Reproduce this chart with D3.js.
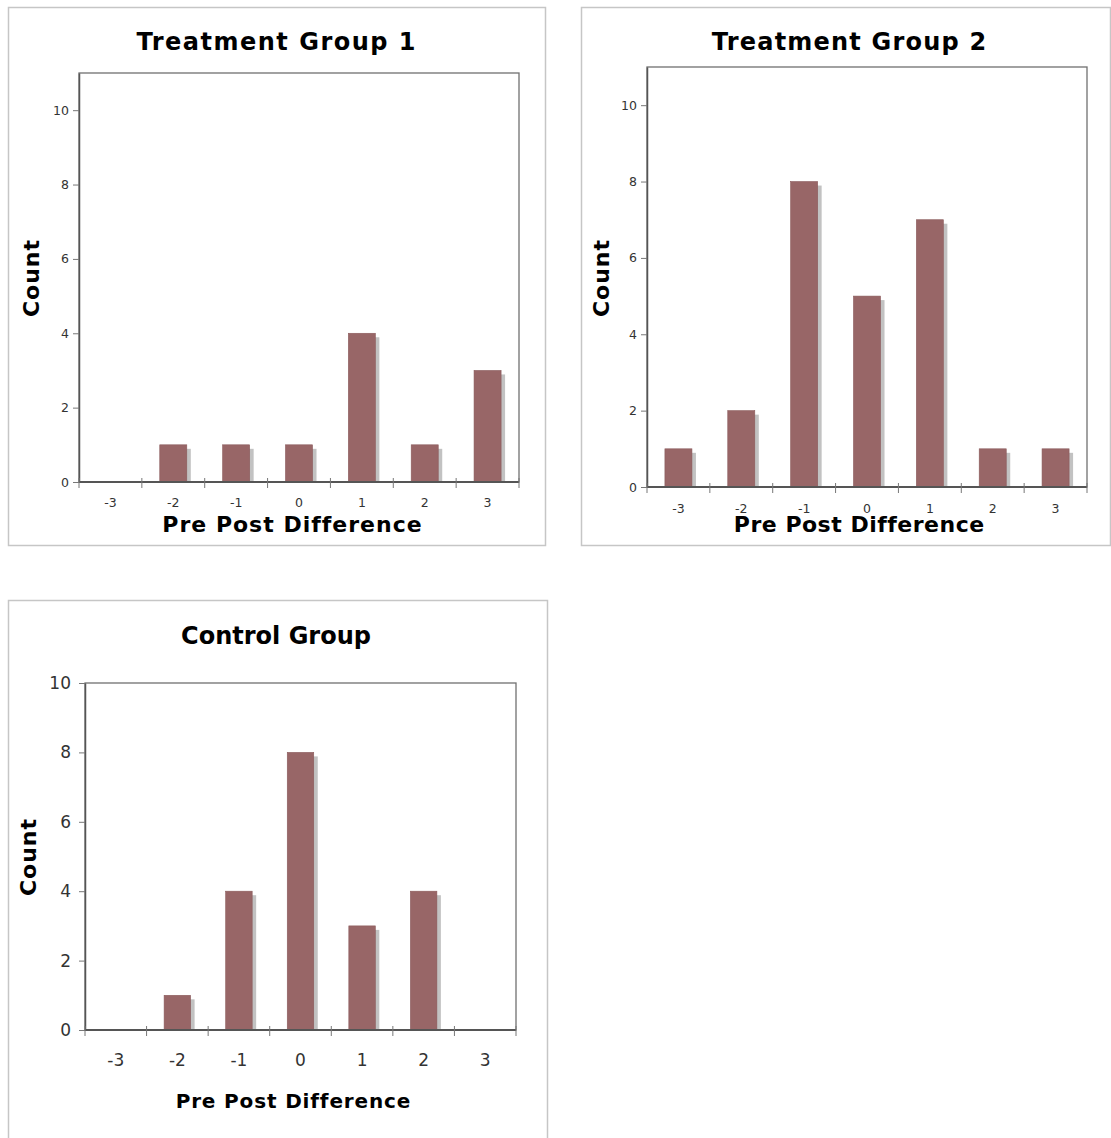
<!DOCTYPE html>
<html>
<head>
<meta charset="utf-8">
<script src="https://cdn.jsdelivr.net/npm/d3@7"></script>
<style>
  html, body { margin: 0; padding: 0; background: #fff; }
  svg { display: block; }
  text { font-family: "DejaVu Sans", Verdana, sans-serif; }
</style>
</head>
<body>
<svg id="chart" width="1111" height="1138"></svg>
<script>
// ---- data ----
const categories = ["-3", "-2", "-1", "0", "1", "2", "3"];
const treatment1Counts = [0, 1, 1, 1, 4, 1, 3];
const treatment2Counts = [1, 2, 8, 5, 7, 1, 1];
const controlCounts = [0, 1, 4, 8, 3, 4, 0];
const yTickValues = [0, 2, 4, 6, 8, 10];
const titles = ["Treatment Group 1", "Treatment Group 2", "Control Group"];
const xAxisTitle = "Pre Post Difference";
const yAxisTitle = "Count";

// ---- layout ----
const panels = [
  { title: titles[0], values: treatment1Counts,
    box: [8, 7, 537, 538], plot: { l: 79, r: 519, t: 73, b: 482 }, yMax: 11,
    titleX: 276, titleY: 50, titleSize: 24, titleLs: 1.5,
    xLabelY: 507, xTitleY: 532, xTitleX: 292, xTitleSize: 22, xTitleLs: 1,
    yTitleX: 39, yTitleY: 278, yTitleSize: 22, yTitleLs: 1, tickSize: 12.5, yLabelX: 69 },
  { title: titles[1], values: treatment2Counts,
    box: [581, 7, 529, 538], plot: { l: 647, r: 1087, t: 67, b: 487 }, yMax: 11,
    titleX: 849, titleY: 50, titleSize: 24, titleLs: 1.2,
    xLabelY: 513, xTitleY: 532, xTitleX: 859, xTitleSize: 22, xTitleLs: 0.5,
    yTitleX: 609, yTitleY: 278, yTitleSize: 22, yTitleLs: 1, tickSize: 12.5, yLabelX: 637 },
  { title: titles[2], values: controlCounts,
    box: [8, 600, 539, 545], plot: { l: 85, r: 516, t: 683, b: 1030 }, yMax: 10,
    titleX: 276, titleY: 644, titleSize: 24, titleLs: 0,
    xLabelY: 1066, xTitleY: 1108, xTitleX: 293, xTitleSize: 20, xTitleLs: 0.85,
    yTitleX: 36, yTitleY: 857, yTitleSize: 22, yTitleLs: 1, tickSize: 17, yLabelX: 71 }
];

const svg = d3.select("#chart");
const barColor = "#986667";
const shadowColor = "#c2c2c2";

panels.forEach(p => {
  const g = svg.append("g");
  // outer frame
  g.append("rect")
    .attr("x", p.box[0] + 0.5).attr("y", p.box[1] + 0.5)
    .attr("width", p.box[2]).attr("height", p.box[3])
    .attr("fill", "#fff").attr("stroke", "#c6c6c6").attr("stroke-width", 1.5);

  const x = d3.scaleBand().domain(categories).range([p.plot.l, p.plot.r]).paddingInner(0).paddingOuter(0);
  const y = d3.scaleLinear().domain([0, p.yMax]).range([p.plot.b, p.plot.t]);

  // plot area border
  g.append("rect")
    .attr("x", p.plot.l).attr("y", p.plot.t)
    .attr("width", p.plot.r - p.plot.l).attr("height", p.plot.b - p.plot.t)
    .attr("fill", "none").attr("stroke", "#707070").attr("stroke-width", 1.3);

  const bw = x.bandwidth() * 0.43;
  const data = categories.map((c, i) => ({ c, v: p.values[i] })).filter(d => d.v > 0);

  // shadows
  g.selectAll(".shadow").data(data).enter().append("rect")
    .attr("class", "shadow")
    .attr("x", d => x(d.c) + (x.bandwidth() - bw) / 2 + 4)
    .attr("y", d => y(d.v) + 4)
    .attr("width", bw)
    .attr("height", d => y(0) - y(d.v) - 4)
    .attr("fill", shadowColor);

  // bars
  g.selectAll(".bar").data(data).enter().append("rect")
    .attr("class", "bar")
    .attr("x", d => x(d.c) + (x.bandwidth() - bw) / 2)
    .attr("y", d => y(d.v))
    .attr("width", bw)
    .attr("height", d => y(0) - y(d.v))
    .attr("fill", barColor)
    .attr("stroke", "#8a5a5b").attr("stroke-width", 0.6);

  // y axis
  const yAxis = d3.axisLeft(y).tickValues(yTickValues).tickSizeInner(6).tickSizeOuter(0)
    .tickPadding(p.plot.l - p.yLabelX - 6);
  const ya = g.append("g").attr("transform", `translate(${p.plot.l},0)`).call(yAxis);
  ya.select(".domain").attr("stroke", "#555").attr("stroke-width", 1.5);
  ya.selectAll(".tick line").attr("stroke", "#777").attr("stroke-width", 1);
  ya.selectAll(".tick text")
    .attr("font-size", p.tickSize).attr("fill", "#333")
    .style("font-family", "'DejaVu Sans', Verdana, sans-serif");

  // x axis: ticks at band boundaries
  const xa = g.append("g");
  xa.append("line")
    .attr("x1", p.plot.l).attr("x2", p.plot.r)
    .attr("y1", y(0)).attr("y2", y(0))
    .attr("stroke", "#555").attr("stroke-width", 1.8);
  const bounds = categories.map(c => x(c)).concat([x(categories[categories.length - 1]) + x.bandwidth()]);
  xa.selectAll(".xtick").data(bounds).enter().append("line")
    .attr("x1", d => d).attr("x2", d => d)
    .attr("y1", y(0) - 4).attr("y2", y(0) + 6)
    .attr("stroke", "#777").attr("stroke-width", 1);
  xa.selectAll(".xlabel").data(categories).enter().append("text")
    .attr("x", d => x(d) + x.bandwidth() / 2)
    .attr("y", p.xLabelY)
    .attr("text-anchor", "middle")
    .attr("font-size", p.tickSize).attr("fill", "#333")
    .text(d => d);

  // titles
  g.append("text")
    .attr("x", p.titleX + p.titleLs / 2)
    .attr("y", p.titleY)
    .attr("text-anchor", "middle")
    .attr("letter-spacing", p.titleLs)
    .attr("font-size", p.titleSize).attr("font-weight", "bold").attr("fill", "#000")
    .text(p.title);

  g.append("text")
    .attr("x", p.xTitleX + p.xTitleLs / 2).attr("y", p.xTitleY)
    .attr("text-anchor", "middle")
    .attr("letter-spacing", p.xTitleLs)
    .attr("font-size", p.xTitleSize).attr("font-weight", "bold").attr("fill", "#000")
    .text(xAxisTitle);

  g.append("text")
    .attr("transform", `translate(${p.yTitleX},${p.yTitleY}) rotate(-90)`)
    .attr("text-anchor", "middle")
    .attr("letter-spacing", p.yTitleLs)
    .attr("font-size", p.yTitleSize).attr("font-weight", "bold").attr("fill", "#000")
    .text(yAxisTitle);
});
</script>
</body>
</html>
